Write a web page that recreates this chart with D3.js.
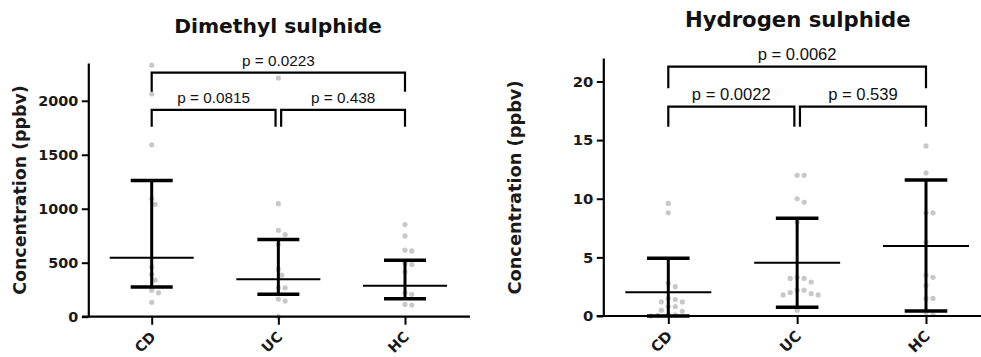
<!DOCTYPE html>
<html><head><meta charset="utf-8">
<script src="https://cdn.jsdelivr.net/npm/d3@7"></script>
<style>body{margin:0;background:#fff}svg{display:block}</style>
</head><body>
<svg id="c" width="981" height="357"></svg>
<script>
// ---------- data ----------
const categories = ["CD", "UC", "HC"];

// Dimethyl sulphide (ppbv)
const dmsTitle = "Dimethyl sulphide";
const dmsTicks = [0, 500, 1000, 1500, 2000];
const dmsMax = 2350;
const dmsCD = [2330, 2063, 1592, 1093, 1041, 460, 392, 340, 246, 222, 133];
const dmsUC = [2210, 1047, 800, 761, 668, 440, 385, 268, 268, 163, 145, 0];
const dmsHC = [853, 748, 616, 609, 495, 484, 416, 222, 207, 114, 108];
const dmsMean  = [545, 348, 286];
const dmsUpper = [1262, 715, 523];
const dmsLower = [274, 207, 166];
const dmsPairs = [["CD", "HC"], ["CD", "UC"], ["UC", "HC"]];
const dmsP = ["p = 0.0223", "p = 0.0815", "p = 0.438"];
const dmsBracketTop = [2260, 1915, 1915];
const dmsBracketLeg = [2084, 1760, 1760];

// Hydrogen sulphide (ppbv)
const hsTitle = "Hydrogen sulphide";
const hsTicks = [0, 5, 10, 15, 20];
const hsMax = 22;
const hsCD = [9.6, 8.8, 2.8, 2.5, 1.5, 1.4, 1.2, 1.2, 0.8, 0.8, 0.5, 0.4, 0.1, 0.1, 0.05, 0.0];
const hsUC = [12.0, 12.0, 10.0, 9.7, 8.0, 3.3, 3.2, 3.2, 2.9, 2.2, 2.2, 2.0, 1.9, 1.8, 1.8, 0.5];
const hsHC = [14.5, 12.2, 8.8, 8.8, 6.3, 3.5, 3.3, 2.6, 1.5, 1.5, 0.3, 0.1];
const hsMean  = [2.02, 4.55, 5.97];
const hsUpper = [4.92, 8.34, 11.6];
const hsLower = [0.0, 0.74, 0.43];
const hsPairs = [["CD", "HC"], ["CD", "UC"], ["UC", "HC"]];
const hsP = ["p = 0.0062", "p = 0.0022", "p = 0.539"];
const hsBracketTop = [21.26, 17.85, 17.85];
const hsBracketLeg = [19.42, 16.14, 16.14];

const yLabel = "Concentration (ppbv)";

// ---------- drawing ----------
const svg = d3.select("#c");
const BOLD = "'DejaVu Sans', Verdana, sans-serif";
const PFONT = "'Liberation Sans', Arial, sans-serif";

function panel(cfg) {
  const g = svg.append("g");
  const x = d3.scalePoint().domain(categories).range(cfg.xRange);
  const y = d3.scaleLinear().domain([0, cfg.yMax]).range(cfg.yRange);

  // dots (simple beeswarm)
  categories.forEach((c, i) => {
    const vals = cfg.dots[i].slice().sort((a, b) => b - a);
    const placed = [];
    vals.forEach(v => {
      const py = y(v);
      let off = 0;
      for (let k = 0; k < 60; k++) {
        const o = k === 0 ? 0 : (k % 2 ? 1 : -1) * Math.ceil(k / 2) * cfg.step;
        if (placed.every(p => Math.hypot(p[0] - o, p[1] - py) >= cfg.minDist)) { off = o; break; }
      }
      placed.push([off, py]);
    });
    g.append("g").selectAll("circle").data(placed).join("circle")
      .attr("cx", d => x(c) + d[0]).attr("cy", d => d[1])
      .attr("r", 2.6).attr("fill", "#c8c8c8");
  });

  // error bars
  const eb = g.append("g").attr("stroke", "#000").attr("fill", "none");
  categories.forEach((c, i) => {
    const cx = x(c);
    eb.append("line").attr("x1", cx).attr("x2", cx)
      .attr("y1", y(cfg.lower[i])).attr("y2", y(cfg.upper[i])).attr("stroke-width", 3);
    [cfg.lower[i], cfg.upper[i]].forEach(v => {
      eb.append("line").attr("x1", cx - cfg.capHalf).attr("x2", cx + cfg.capHalf)
        .attr("y1", y(v)).attr("y2", y(v)).attr("stroke-width", 3.5);
    });
    eb.append("line").attr("x1", cx - cfg.meanHalf).attr("x2", cx + cfg.meanHalf)
      .attr("y1", y(cfg.mean[i])).attr("y2", y(cfg.mean[i])).attr("stroke-width", 2);
  });

  // y axis
  const ya = g.append("g").attr("transform", `translate(${cfg.yAxisX},0)`)
    .call(d3.axisLeft(y).tickValues(cfg.ticks).tickFormat(d3.format("d"))
      .tickSize(6.5).tickPadding(3.5).tickSizeOuter(0));
  ya.select(".domain").attr("stroke", "#000").attr("stroke-width", 2.2);
  ya.selectAll(".tick line").attr("stroke", "#000").attr("stroke-width", 2);
  ya.selectAll(".tick text").attr("font-family", BOLD).attr("font-weight", "bold")
    .attr("font-size", cfg.tickSize).attr("fill", "#1a1a1a");

  // x axis
  g.append("line").attr("x1", cfg.xAxis[0]).attr("x2", cfg.xAxis[1])
    .attr("y1", y(0)).attr("y2", y(0)).attr("stroke", "#000").attr("stroke-width", 2.2);
  const xa = g.append("g").attr("transform", `translate(0,${y(0)})`)
    .call(d3.axisBottom(x).tickSize(8).tickFormat("").tickSizeOuter(0));
  xa.select(".domain").remove();
  xa.selectAll(".tick line").attr("stroke", "#000").attr("stroke-width", 2);
  g.append("g").selectAll("text").data(categories).join("text")
    .attr("transform", d => `translate(${x(d) + 5},${y(0) + 21}) rotate(-45)`)
    .attr("text-anchor", "end")
    .attr("font-family", BOLD).attr("font-weight", "bold")
    .attr("font-size", cfg.tickSize).attr("fill", "#1a1a1a").text(d => d);

  // brackets
  const br = g.append("g");
  cfg.pairs.forEach((p, i) => {
    const ia = categories.indexOf(p[0]), ib = categories.indexOf(p[1]);
    const x1 = x(p[0]) + (ia === 1 ? 2.8 : 0);
    const x2 = x(p[1]) - (ib === 1 ? 2.8 : 0);
    const yt = y(cfg.bTop[i]), yl = y(cfg.bLeg[i]);
    br.append("path").attr("d", `M${x1},${yl}V${yt}H${x2}V${yl}`)
      .attr("fill", "none").attr("stroke", "#000").attr("stroke-width", 2.2);
    br.append("text").attr("x", (x1 + x2) / 2).attr("y", yt - cfg.pGap)
      .attr("text-anchor", "middle").attr("font-family", PFONT)
      .attr("font-size", cfg.pSize).attr("fill", "#111").text(cfg.pLabels[i]);
  });

  // title
  g.append("text").attr("x", cfg.titleX).attr("y", cfg.titleY).attr("text-anchor", "middle")
    .attr("font-family", BOLD).attr("font-weight", "bold").attr("font-size", cfg.titleSize)
    .attr("fill", "#111").text(cfg.title);

  // y label
  g.append("text").attr("transform", `translate(${cfg.yLabX},${cfg.yLabY}) rotate(-90)`)
    .attr("text-anchor", "middle").attr("font-family", BOLD).attr("font-weight", "bold")
    .attr("font-size", cfg.yLabSize).attr("fill", "#1a1a1a").text(yLabel);
}

panel({
  title: dmsTitle, ticks: dmsTicks, yMax: dmsMax,
  dots: [dmsCD, dmsUC, dmsHC], mean: dmsMean, upper: dmsUpper, lower: dmsLower,
  pairs: dmsPairs, pLabels: dmsP, bTop: dmsBracketTop, bLeg: dmsBracketLeg,
  xRange: [151.7, 405], yRange: [316.7, 63], yAxisX: 88.3, xAxis: [82, 470],
  capHalf: 21, meanHalf: 42, step: 3.4, minDist: 6,
  tickSize: 14.4, pSize: 15.3, pGap: 6.5,
  titleX: 278, titleY: 33.3, titleSize: 20.3,
  yLabX: 26, yLabY: 190, yLabSize: 17.4
});

panel({
  title: hsTitle, ticks: hsTicks, yMax: hsMax,
  dots: [hsCD, hsUC, hsHC], mean: hsMean, upper: hsUpper, lower: hsLower,
  pairs: hsPairs, pLabels: hsP, bTop: hsBracketTop, bLeg: hsBracketLeg,
  xRange: [668.3, 926], yRange: [316, 58], yAxisX: 603.3, xAxis: [596.7, 981],
  capHalf: 21.3, meanHalf: 43, step: 3.5, minDist: 6.2,
  tickSize: 14.8, pSize: 16.6, pGap: 7,
  titleX: 797.8, titleY: 26.7, titleSize: 21.2,
  yLabX: 521, yLabY: 187.5, yLabSize: 17.8
});
</script>
</body></html>
